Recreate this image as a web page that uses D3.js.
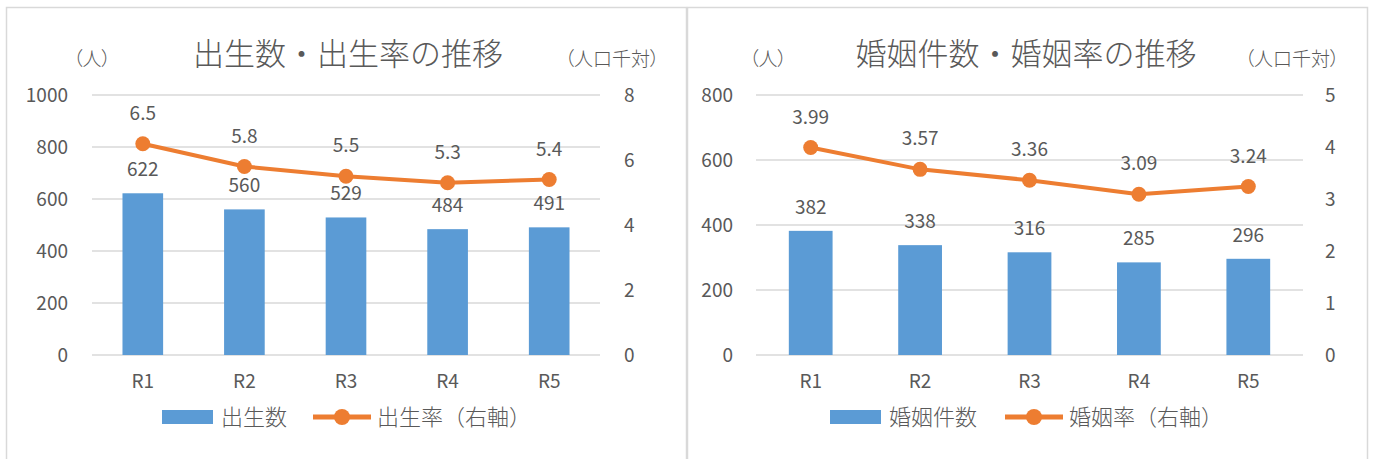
<!DOCTYPE html>
<html>
<head>
<meta charset="utf-8">
<script src="https://cdn.jsdelivr.net/npm/d3@7"></script>
<style>
  body { margin: 0; background: #fff; }
  svg text { font-family: "Noto Sans CJK JP", "Noto Sans", sans-serif; fill: #595959; }
  .unit { font-feature-settings: "palt"; }
</style>
</head>
<body>
<div id="chart"></div>
<script>
// data
var categories = ["R1", "R2", "R3", "R4", "R5"];

var birthCounts = [622, 560, 529, 484, 491];
var birthRates = [6.5, 5.8, 5.5, 5.3, 5.4];
var birthLeftTicks = [0, 200, 400, 600, 800, 1000];
var birthRightTicks = [0, 2, 4, 6, 8];

var marriageCounts = [382, 338, 316, 285, 296];
var marriageRates = [3.99, 3.57, 3.36, 3.09, 3.24];
var marriageLeftTicks = [0, 200, 400, 600, 800];
var marriageRightTicks = [0, 1, 2, 3, 4, 5];

var barColor = "#5B9BD5";
var lineColor = "#ED7D31";
var gridColor = "#D9D9D9";

var svg = d3.select("#chart").append("svg")
    .attr("width", 1373)
    .attr("height", 459);

function drawPanel(p) {
    var g = svg.append("g").attr("transform", "translate(" + p.left + ",0)");

    g.append("rect")
        .attr("x", 0.5).attr("y", 7.5)
        .attr("width", p.width).attr("height", 460)
        .attr("fill", "none")
        .attr("stroke", gridColor)
        .attr("stroke-width", 1.5);

    var x = d3.scaleBand()
        .domain(categories)
        .range([p.plotLeft, p.plotRight])
        .paddingInner(p.pad)
        .paddingOuter(p.pad / 2);

    var yL = d3.scaleLinear().domain([0, d3.max(p.leftTicks)]).range([355, 95]);
    var yR = d3.scaleLinear().domain([0, d3.max(p.rightTicks)]).range([355, 95]);

    // gridlines
    g.selectAll(".grid")
        .data(p.leftTicks)
        .enter().append("line")
        .attr("x1", p.plotLeft).attr("x2", p.plotRight)
        .attr("y1", d => yL(d)).attr("y2", d => yL(d))
        .attr("stroke", gridColor)
        .attr("stroke-width", 1.3);

    // left axis
    var leftAxis = d3.axisLeft(yL).tickValues(p.leftTicks).tickFormat(d3.format("d")).tickSize(0).tickPadding(0);
    var la = g.append("g")
        .attr("transform", "translate(" + p.leftLabelX + ",0)")
        .call(leftAxis);
    la.select(".domain").remove();
    la.selectAll("text").style("font-size", "19px").attr("fill", "#595959");

    // right axis
    var rightAxis = d3.axisRight(yR).tickValues(p.rightTicks).tickFormat(d3.format("d")).tickSize(0).tickPadding(0);
    var ra = g.append("g")
        .attr("transform", "translate(" + p.rightLabelX + ",0)")
        .call(rightAxis);
    ra.select(".domain").remove();
    ra.selectAll("text").style("font-size", "19px").attr("fill", "#595959");

    // category axis
    var xAxis = d3.axisBottom(x).tickSize(0).tickPadding(0);
    var xa = g.append("g")
        .attr("transform", "translate(0,374)")
        .call(xAxis);
    xa.select(".domain").remove();
    xa.selectAll("text").style("font-size", "19px").attr("fill", "#595959");

    // bars
    g.selectAll(".bar")
        .data(p.counts)
        .enter().append("rect")
        .attr("class", "bar")
        .attr("x", (d, i) => x(categories[i]))
        .attr("y", d => yL(d))
        .attr("width", x.bandwidth())
        .attr("height", d => yL(0) - yL(d))
        .attr("fill", barColor);

    g.selectAll(".barLabel")
        .data(p.counts)
        .enter().append("text")
        .attr("x", (d, i) => x(categories[i]) + x.bandwidth() / 2)
        .attr("y", d => yL(d) - 17)
        .attr("text-anchor", "middle")
        .style("font-size", "19px")
        .text(d => d);

    // line
    var line = d3.line()
        .x((d, i) => x(categories[i]) + x.bandwidth() / 2)
        .y(d => yR(d));

    g.append("path")
        .datum(p.rates)
        .attr("d", line)
        .attr("fill", "none")
        .attr("stroke", lineColor)
        .attr("stroke-width", 4)
        .attr("stroke-linejoin", "round");

    g.selectAll(".dot")
        .data(p.rates)
        .enter().append("circle")
        .attr("cx", (d, i) => x(categories[i]) + x.bandwidth() / 2)
        .attr("cy", d => yR(d))
        .attr("r", 7.5)
        .attr("fill", lineColor);

    g.selectAll(".rateLabel")
        .data(p.rates)
        .enter().append("text")
        .attr("x", (d, i) => x(categories[i]) + x.bandwidth() / 2)
        .attr("y", d => yR(d) - 24)
        .attr("text-anchor", "middle")
        .style("font-size", "19px")
        .text(d => p.fmt(d));

    // title and units
    g.append("text")
        .attr("x", p.titleX).attr("y", 65)
        .attr("text-anchor", "middle")
        .style("font-size", "31px")
        .style("font-weight", 300)
        .text(p.title);

    g.append("text")
        .attr("class", "unit")
        .attr("x", p.unitLeftX).attr("y", 66)
        .attr("text-anchor", "middle")
        .style("font-size", "19px")
        .style("font-weight", 300)
        .text("（人）");

    g.append("text")
        .attr("class", "unit")
        .attr("x", p.unitRightX).attr("y", 66)
        .attr("text-anchor", "middle")
        .style("font-size", "19px")
        .style("font-weight", 300)
        .text("（人口千対）");

    // legend
    var lg = g.append("g").attr("transform", "translate(" + p.legendX + ",417)");
    lg.append("rect")
        .attr("x", 0).attr("y", -7)
        .attr("width", 51).attr("height", 14)
        .attr("fill", barColor);
    lg.append("text")
        .attr("x", 59).attr("y", 8)
        .style("font-size", "22px")
        .style("font-weight", 300)
        .text(p.barName);
    lg.append("line")
        .attr("x1", p.legendLineX).attr("x2", p.legendLineX + 58)
        .attr("y1", 0).attr("y2", 0)
        .attr("stroke", lineColor)
        .attr("stroke-width", 5);
    lg.append("circle")
        .attr("cx", p.legendLineX + 29).attr("cy", 0)
        .attr("r", 8)
        .attr("fill", lineColor);
    lg.append("text")
        .attr("x", p.legendLineX + 64).attr("y", 8)
        .style("font-size", "22px")
        .style("font-weight", 300)
        .text(p.lineName);
}

drawPanel({
    left: 6, width: 680,
    plotLeft: 86, plotRight: 594, pad: 0.6,
    leftLabelX: 62, rightLabelX: 618,
    leftTicks: birthLeftTicks, rightTicks: birthRightTicks,
    counts: birthCounts, rates: birthRates,
    fmt: d => d.toFixed(1),
    title: "出生数・出生率の推移", titleX: 342,
    unitLeftX: 86, unitRightX: 606,
    legendX: 156, legendLineX: 151,
    barName: "出生数", lineName: "出生率（右軸）"
});

drawPanel({
    left: 687, width: 680,
    plotLeft: 69, plotRight: 616, pad: 0.6,
    leftLabelX: 46, rightLabelX: 638,
    leftTicks: marriageLeftTicks, rightTicks: marriageRightTicks,
    counts: marriageCounts, rates: marriageRates,
    fmt: d => d.toFixed(2),
    title: "婚姻件数・婚姻率の推移", titleX: 339,
    unitLeftX: 81, unitRightX: 605,
    legendX: 143, legendLineX: 175,
    barName: "婚姻件数", lineName: "婚姻率（右軸）"
});
</script>
</body>
</html>
